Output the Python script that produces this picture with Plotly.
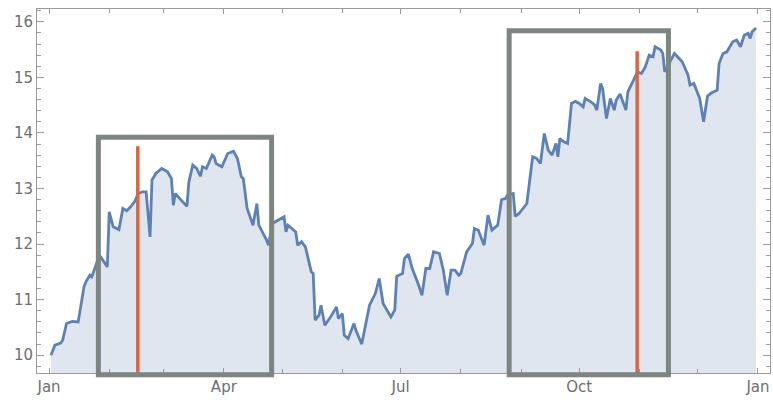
import pandas as pd
import plotly.graph_objects as go

# Daily closing level, sampled at the turning points of the series
year_start = pd.Timestamp("2019-01-01")
day_of_year = [
    1, 3, 6, 7, 9, 12, 15, 18, 19, 21, 22, 24, 26, 30, 31, 33, 36, 38, 40, 42,
    44, 46, 48, 50, 52, 53, 55, 58, 61, 63, 64, 65, 67, 68, 71, 72, 74, 76, 78, 79,
    81, 84, 85, 86, 89, 92, 95, 97, 99, 100, 102, 105, 107, 108, 112, 113, 115, 119, 121, 122,
    123, 125, 127, 128, 130, 132, 135, 136, 137, 139, 140, 142, 145, 148, 149, 151, 152, 154, 157, 158,
    161, 165, 168, 170, 172, 176, 178, 179, 182, 183, 185, 187, 188, 190, 192, 194, 196, 198, 201, 203,
    205, 207, 209, 211, 212, 215, 217, 218, 219, 221, 224, 226, 228, 231, 233, 235, 236, 239, 240, 242,
    246, 249, 251, 253, 255, 257, 259, 261, 262, 263, 265, 267, 269, 271, 273, 275, 276, 279, 281, 282,
    284, 285, 287, 289, 291, 292, 294, 297, 298, 301, 303, 305, 307, 309, 311, 312, 315, 316, 317, 322,
    325, 326, 329, 330, 332, 335, 337, 339, 341, 344, 345, 347, 349, 352, 354, 356, 358, 360, 361, 362,
    364,
]
price = [
    10.00, 10.18, 10.22, 10.27, 10.57, 10.61, 10.60, 11.23, 11.32, 11.44, 11.41, 11.62, 11.80, 11.59, 12.58, 12.31, 12.26, 12.64, 12.60, 12.67,
    12.76, 12.91, 12.94, 12.94, 12.13, 13.15, 13.27, 13.36, 13.30, 13.18, 12.70, 12.91, 12.82, 12.79, 12.68, 13.12, 13.42, 13.36, 13.22, 13.39,
    13.36, 13.60, 13.57, 13.45, 13.39, 13.63, 13.67, 13.54, 13.21, 13.18, 12.64, 12.34, 12.73, 12.34, 12.07, 11.98, 12.37, 12.46, 12.49, 12.22,
    12.34, 12.28, 12.22, 11.98, 12.04, 11.95, 11.50, 11.47, 10.63, 10.72, 10.90, 10.54, 10.69, 10.87, 10.66, 10.75, 10.36, 10.30, 10.57, 10.45,
    10.20, 10.90, 11.11, 11.38, 10.93, 10.69, 10.81, 11.42, 11.47, 11.74, 11.82, 11.56, 11.48, 11.29, 11.08, 11.56, 11.56, 11.86, 11.83, 11.53,
    11.08, 11.53, 11.53, 11.44, 11.47, 11.86, 11.96, 12.01, 12.28, 12.25, 11.98, 12.52, 12.25, 12.34, 12.80, 12.82, 12.88, 12.91, 12.50, 12.55,
    12.73, 13.57, 13.54, 13.45, 13.99, 13.69, 13.60, 13.81, 13.57, 13.90, 13.84, 13.81, 14.53, 14.57, 14.53, 14.47, 14.62, 14.56, 14.50, 14.41,
    14.89, 14.80, 14.26, 14.62, 14.41, 14.59, 14.70, 14.41, 14.74, 14.97, 15.10, 15.07, 15.19, 15.40, 15.37, 15.55, 15.49, 15.43, 15.10, 15.43,
    15.31, 15.28, 15.04, 14.86, 14.89, 14.62, 14.20, 14.66, 14.72, 14.77, 15.25, 15.43, 15.46, 15.64, 15.67, 15.55, 15.76, 15.79, 15.70, 15.82,
    15.89,
]

# Highlighted windows (start day, end day, upper level) and event markers
window_start = [25.4, 236.9]
window_end = [114.6, 318.9]
window_top = [13.92, 15.84]
window_bottom = 9.65
event_day = [45.7, 302.8]
event_top = [13.76, 15.47]

Y_RANGE = [9.68, 16.23]
X_PAD_DAYS = 6.2

def to_date(d):
    return year_start + pd.to_timedelta(d, unit="D")

def y_paper(v):
    return (v - Y_RANGE[0]) / (Y_RANGE[1] - Y_RANGE[0])

dates = [to_date(d) for d in day_of_year]

LINE = "#5E81B5"
FRAME = "#9A9A9A"
LABEL = "#6E6E6E"
BOX = "#7C857F"
EVENT = "#E0633D"

fig = go.Figure()
fig.add_trace(go.Scatter(
    x=dates, y=price, mode="lines",
    line=dict(color=LINE, width=2.8),
    fill="tozeroy", fillcolor="rgba(94,129,181,0.2)",
    hoverinfo="skip", showlegend=False,
))

shapes = []
for d, top in zip(event_day, event_top):
    shapes.append(dict(
        type="line", xref="x", yref="y",
        x0=to_date(d), x1=to_date(d), y0=Y_RANGE[0], y1=top,
        line=dict(color=EVENT, width=3.5), layer="above",
    ))
for s, e, top in zip(window_start, window_end, window_top):
    shapes.append(dict(
        type="rect", xref="x", yref="paper",
        x0=to_date(s), x1=to_date(e), y0=y_paper(window_bottom), y1=y_paper(top),
        line=dict(color=BOX, width=5), fillcolor="rgba(0,0,0,0)", layer="above",
    ))

x_range = [to_date(-X_PAD_DAYS), to_date(365 + X_PAD_DAYS)]

fig.update_layout(
    width=773, height=400,
    margin=dict(l=37, r=3, t=9, b=27),
    paper_bgcolor="white", plot_bgcolor="white",
    font=dict(family="DejaVu Sans, Liberation Sans, Arial", size=15, color=LABEL),
    shapes=shapes,
    xaxis=dict(
        type="date", range=x_range,
        tick0="2019-01-01", dtick="M3", tickformat="%b",
        ticks="inside", ticklen=5, tickwidth=1, tickcolor=FRAME,
        minor=dict(dtick="M1", ticks="inside", ticklen=4, tickcolor=FRAME),
        showline=True, linecolor=FRAME, linewidth=1, mirror="ticks",
        showgrid=False, zeroline=False,
    ),
    yaxis=dict(
        range=Y_RANGE, tick0=10, dtick=1,
        ticks="inside", ticklen=7, tickwidth=1, tickcolor=FRAME,
        minor=dict(tick0=10, dtick=0.2, ticks="inside", ticklen=4, tickcolor=FRAME),
        showline=True, linecolor=FRAME, linewidth=1, mirror="ticks",
        showgrid=False, zeroline=False,
    ),
)

fig.write_html("out.html")
